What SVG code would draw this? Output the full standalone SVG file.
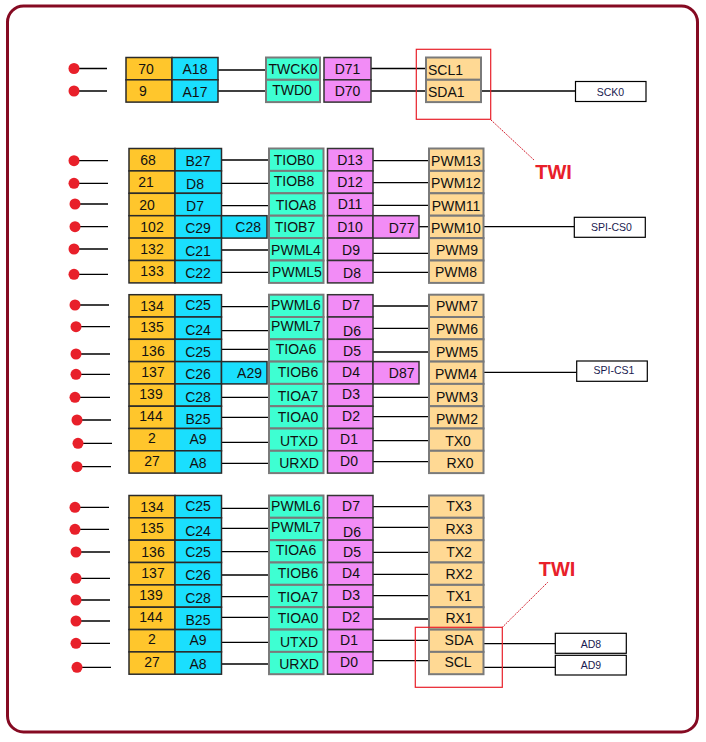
<svg xmlns="http://www.w3.org/2000/svg" width="706" height="742" viewBox="0 0 706 742">
<style>
text{font-family:"Liberation Sans",Arial,sans-serif;font-size:14px;fill:#111;text-anchor:middle}
.o{fill:#FFC62C;stroke:#2a2a2a;stroke-width:1.5}
.c{fill:#1ADFFE;stroke:#2a2a2a;stroke-width:1.5}
.t{fill:#3EFFD2;stroke:#7a7a7a;stroke-width:2}
.p{fill:#F28CF6;stroke:#333;stroke-width:1.5}
.w{fill:#FFD994;stroke:#7a7a7a;stroke-width:2}
.b{fill:#fff;stroke:#000;stroke-width:1.2}
.s{font-size:10.5px;fill:#1a1a50}
.l text{text-anchor:start}
.e{text-anchor:end}
.tw{font-size:20px;font-weight:bold;fill:#E8202A}
#conn line{stroke:#000;stroke-width:1.3}
#conn .dl{stroke:#d01020;stroke-width:1;stroke-dasharray:1.5 1}
.dot{fill:#E8202A}
.rb{fill:none;stroke:#E8202A;stroke-width:1.2}
</style>
<rect x="7.5" y="6" width="690" height="726" rx="16" fill="#fff" stroke="#850A22" stroke-width="3"/>

<g id="conn">
<!-- block 1 -->
<line x1="74" y1="68.5" x2="107" y2="68.5"/><line x1="74" y1="91" x2="107" y2="91"/>
<line x1="218" y1="70" x2="266" y2="70"/><line x1="218" y1="91" x2="266" y2="91"/>
<line x1="371" y1="68.5" x2="426" y2="68.5"/><line x1="371" y1="91" x2="426" y2="91"/>
<line x1="481" y1="91" x2="575.5" y2="91"/>
<line class="dl" x1="491" y1="120" x2="534" y2="160"/>
<!-- block 2 -->
<line x1="74" y1="160.7" x2="108" y2="160.7"/><line x1="74" y1="183.3" x2="108" y2="183.3"/>
<line x1="74" y1="204" x2="108" y2="204"/><line x1="74" y1="226.7" x2="108" y2="226.7"/>
<line x1="74" y1="249" x2="108" y2="249"/><line x1="74" y1="274.3" x2="108" y2="274.3"/>
<line x1="221.5" y1="160" x2="269" y2="160"/><line x1="220" y1="183.3" x2="269" y2="183.3"/>
<line x1="221.5" y1="205.7" x2="269" y2="205.7"/><line x1="221.5" y1="250" x2="269" y2="250"/>
<line x1="221.5" y1="272.3" x2="269" y2="272.3"/>
<line x1="373" y1="160.7" x2="429" y2="160.7"/><line x1="373" y1="182.7" x2="429" y2="182.7"/>
<line x1="373" y1="205.3" x2="429" y2="205.3"/><line x1="419" y1="226.7" x2="429" y2="226.7"/>
<line x1="373" y1="253.3" x2="429" y2="253.3"/><line x1="373" y1="272.3" x2="429" y2="272.3"/>
<line x1="483.5" y1="226.7" x2="574.3" y2="226.7"/>
<!-- block 3 -->
<line x1="75" y1="305" x2="109" y2="305"/><line x1="76" y1="326.7" x2="110" y2="326.7"/>
<line x1="76" y1="354" x2="110" y2="354"/><line x1="76" y1="374.3" x2="110" y2="374.3"/>
<line x1="75" y1="397.3" x2="110" y2="397.3"/><line x1="77" y1="420" x2="111" y2="420"/>
<line x1="78" y1="443.3" x2="112" y2="443.3"/><line x1="77" y1="466.7" x2="111" y2="466.7"/>
<line x1="221.5" y1="306.7" x2="269" y2="306.7"/><line x1="221.5" y1="330.7" x2="269" y2="330.7"/>
<line x1="221.5" y1="349.3" x2="269" y2="349.3"/><line x1="221.5" y1="397.3" x2="269" y2="397.3"/>
<line x1="220" y1="417.3" x2="269" y2="417.3"/><line x1="221.5" y1="442.3" x2="269" y2="442.3"/>
<line x1="221.5" y1="463.3" x2="269" y2="463.3"/>
<line x1="373" y1="306" x2="429" y2="306"/><line x1="372" y1="328.3" x2="429" y2="328.3"/>
<line x1="373" y1="352" x2="429" y2="352"/><line x1="372" y1="397.3" x2="429" y2="397.3"/>
<line x1="373" y1="416.7" x2="429" y2="416.7"/><line x1="373" y1="440.7" x2="429" y2="440.7"/>
<line x1="373" y1="461.7" x2="429" y2="461.7"/>
<line x1="483.5" y1="372.3" x2="576.7" y2="372.3"/>
<!-- block 4 -->
<line x1="75" y1="507.3" x2="109" y2="507.3"/><line x1="75" y1="529.3" x2="109" y2="529.3"/>
<line x1="76" y1="552" x2="110" y2="552"/><line x1="76" y1="578.3" x2="110" y2="578.3"/>
<line x1="76" y1="600" x2="110" y2="600"/><line x1="76" y1="621" x2="110" y2="621"/>
<line x1="76" y1="643.3" x2="110" y2="643.3"/><line x1="77" y1="667.3" x2="111" y2="667.3"/>
<line x1="221.5" y1="508.3" x2="269" y2="508.3"/><line x1="221.5" y1="528.3" x2="269" y2="528.3"/>
<line x1="221.5" y1="551.7" x2="271" y2="551.7"/><line x1="221.5" y1="575" x2="269" y2="575"/>
<line x1="221.5" y1="596.7" x2="269" y2="596.7"/><line x1="221.5" y1="617.3" x2="269" y2="617.3"/>
<line x1="221.5" y1="642.3" x2="269" y2="642.3"/><line x1="221.5" y1="664" x2="269" y2="664"/>
<line x1="373" y1="506.7" x2="429" y2="506.7"/><line x1="372" y1="527.3" x2="429" y2="527.3"/>
<line x1="373" y1="552.3" x2="429" y2="552.3"/><line x1="373" y1="574.3" x2="429" y2="574.3"/>
<line x1="373" y1="595.7" x2="429" y2="595.7"/><line x1="373" y1="619" x2="429" y2="619"/>
<line x1="373" y1="640.3" x2="429" y2="640.3"/><line x1="373" y1="660.7" x2="429" y2="660.7"/>
<line x1="483.5" y1="643.7" x2="555.3" y2="643.7"/><line x1="483.5" y1="667.3" x2="556" y2="667.3"/>
<line class="dl" x1="502.3" y1="627.3" x2="547.7" y2="582.3"/>
</g>

<g id="dots">
<circle class="dot" cx="74" cy="68.5" r="5.5"/><circle class="dot" cx="74" cy="91" r="5.5"/>
<circle class="dot" cx="74" cy="160.7" r="5.5"/><circle class="dot" cx="74" cy="183.3" r="5.5"/>
<circle class="dot" cx="75" cy="204" r="5.5"/><circle class="dot" cx="75" cy="226.7" r="5.5"/>
<circle class="dot" cx="74" cy="249" r="5.5"/><circle class="dot" cx="74" cy="274.3" r="5.5"/>
<circle class="dot" cx="75" cy="305" r="5.5"/><circle class="dot" cx="76" cy="326.7" r="5.5"/>
<circle class="dot" cx="76" cy="354" r="5.5"/><circle class="dot" cx="76" cy="374.3" r="5.5"/>
<circle class="dot" cx="75" cy="397.3" r="5.5"/><circle class="dot" cx="77" cy="420" r="5.5"/>
<circle class="dot" cx="78" cy="443.3" r="5.5"/><circle class="dot" cx="77" cy="466.7" r="5.5"/>
<circle class="dot" cx="75" cy="507.3" r="5.5"/><circle class="dot" cx="75" cy="529.3" r="5.5"/>
<circle class="dot" cx="76" cy="552" r="5.5"/><circle class="dot" cx="76" cy="578.3" r="5.5"/>
<circle class="dot" cx="76" cy="600" r="5.5"/><circle class="dot" cx="76" cy="621" r="5.5"/>
<circle class="dot" cx="76" cy="643.3" r="5.5"/><circle class="dot" cx="77" cy="667.3" r="5.5"/>
</g>

<!-- block 1 -->
<g id="b1">
<g id="b1-o1"><rect class="o" x="126" y="57.5" width="46" height="22.3"/><text x="146" y="74">70</text></g>
<g id="b1-o2"><rect class="o" x="126" y="79.8" width="46" height="22.3"/><text x="143" y="96">9</text></g>
<g id="b1-c1"><rect class="c" x="172" y="57.5" width="46" height="22.3"/><text x="195" y="74">A18</text></g>
<g id="b1-c2"><rect class="c" x="172" y="79.8" width="46" height="22.3"/><text x="195" y="96.5">A17</text></g>
<g id="b1-t1"><rect class="t" x="266" y="57.5" width="54" height="22.3"/><text x="293" y="73.5">TWCK0</text></g>
<g id="b1-t2"><rect class="t" x="266" y="79.8" width="54" height="22.3"/><text x="292" y="95">TWD0</text></g>
<g id="b1-p1"><rect class="p" x="324" y="57.5" width="47" height="22.3"/><text x="347.5" y="73.5">D71</text></g>
<g id="b1-p2"><rect class="p" x="324" y="79.8" width="47" height="22.3"/><text x="347.5" y="96">D70</text></g>
<g id="b1-w1" class="l"><rect class="w" x="426" y="57.5" width="55" height="22.3"/><text x="428" y="74.5">SCL1</text></g>
<g id="b1-w2" class="l"><rect class="w" x="426" y="79.8" width="55" height="22.3"/><text x="428" y="97">SDA1</text></g>
<g id="sck0"><rect class="b" x="575.5" y="81.5" width="70.5" height="20"/><text class="s" x="610.5" y="95.5">SCK0</text></g>
<g id="twi1"><rect class="rb" x="416.3" y="49.3" width="74.4" height="70"/><text class="tw" x="553.5" y="179">TWI</text></g>
</g>

<!-- block 2 -->
<g id="b2">
<g id="b2-r1"><rect class="o" x="129" y="148.5" width="46" height="22.4"/><text x="148" y="165">68</text>
<rect class="c" x="175" y="148.5" width="46.5" height="22.4"/><text x="198" y="166">B27</text>
<rect class="t" x="269" y="148.5" width="54.5" height="22.4"/><text x="294" y="164.5">TIOB0</text>
<rect class="p" x="327.5" y="148.5" width="45.5" height="22.4"/><text x="350" y="164.5">D13</text>
<rect class="w" x="429" y="148.5" width="54.5" height="22.4"/><text x="456" y="166">PWM13</text></g>
<g id="b2-r2"><rect class="o" x="129" y="170.9" width="46" height="22.4"/><text x="146" y="187">21</text>
<rect class="c" x="175" y="170.9" width="46.5" height="22.4"/><text x="195" y="188.5">D8</text>
<rect class="t" x="269" y="170.9" width="54.5" height="22.4"/><text x="294" y="186">TIOB8</text>
<rect class="p" x="327.5" y="170.9" width="45.5" height="22.4"/><text x="350" y="186.5">D12</text>
<rect class="w" x="429" y="170.9" width="54.5" height="22.4"/><text x="456" y="188">PWM12</text></g>
<g id="b2-r3"><rect class="o" x="129" y="193.3" width="46" height="22.4"/><text x="147" y="210">20</text>
<rect class="c" x="175" y="193.3" width="46.5" height="22.4"/><text x="195" y="210.5">D7</text>
<rect class="t" x="269" y="193.3" width="54.5" height="22.4"/><text x="296" y="209.5">TIOA8</text>
<rect class="p" x="327.5" y="193.3" width="45.5" height="22.4"/><text x="350" y="208.5">D11</text>
<rect class="w" x="429" y="193.3" width="54.5" height="22.4"/><text x="456" y="211">PWM11</text></g>
<g id="b2-r4"><rect class="o" x="129" y="215.7" width="46" height="22.4"/><text x="152" y="231.5">102</text>
<rect class="c" x="175" y="215.7" width="46.5" height="22.4"/><text x="198" y="233">C29</text>
<rect class="c" x="221.5" y="215.7" width="45.5" height="22.4"/><text class="e" x="261" y="232">C28</text>
<rect class="t" x="269" y="215.7" width="54.5" height="22.4"/><text x="295" y="231.5">TIOB7</text>
<rect class="p" x="327.5" y="215.7" width="45.5" height="22.4"/><text x="350" y="231.5">D10</text>
<rect class="p" x="373" y="215.7" width="46" height="22.4"/><text class="e" x="414.5" y="232.5">D77</text>
<rect class="w" x="429" y="215.7" width="54.5" height="22.4"/><text x="456" y="232.5">PWM10</text></g>
<g id="b2-r5"><rect class="o" x="129" y="238.1" width="46" height="22.4"/><text x="152" y="254">132</text>
<rect class="c" x="175" y="238.1" width="46.5" height="22.4"/><text x="198" y="255.5">C21</text>
<rect class="t" x="269" y="238.1" width="54.5" height="22.4"/><text x="296" y="254.5">PWML4</text>
<rect class="p" x="327.5" y="238.1" width="45.5" height="22.4"/><text x="351" y="254.5">D9</text>
<rect class="w" x="429" y="238.1" width="54.5" height="22.4"/><text x="457" y="254.5">PWM9</text></g>
<g id="b2-r6"><rect class="o" x="129" y="260.5" width="46" height="22.4"/><text x="152" y="276">133</text>
<rect class="c" x="175" y="260.5" width="46.5" height="22.4"/><text x="198" y="277.5">C22</text>
<rect class="t" x="269" y="260.5" width="54.5" height="22.4"/><text x="297" y="277">PWML5</text>
<rect class="p" x="327.5" y="260.5" width="45.5" height="22.4"/><text x="352" y="277.5">D8</text>
<rect class="w" x="429" y="260.5" width="54.5" height="22.4"/><text x="456" y="277">PWM8</text></g>
<g id="spics0"><rect class="b" x="574.3" y="217.3" width="71" height="20"/><text class="s" x="611.5" y="231">SPI-CS0</text></g>
</g>

<!-- block 3 -->
<g id="b3">
<g id="b3-r1"><rect class="o" x="129" y="294.7" width="46" height="22.3"/><text x="152" y="310.5">134</text>
<rect class="c" x="175" y="294.7" width="46.5" height="22.3"/><text x="198" y="309.5">C25</text>
<rect class="t" x="269" y="294.7" width="54.5" height="22.3"/><text x="296" y="309.5">PWML6</text>
<rect class="p" x="327.5" y="294.7" width="45.5" height="22.3"/><text x="351" y="310">D7</text>
<rect class="w" x="429" y="294.7" width="54.5" height="22.3"/><text x="457" y="310.5">PWM7</text></g>
<g id="b3-r2"><rect class="o" x="129" y="317" width="46" height="22.3"/><text x="152" y="332">135</text>
<rect class="c" x="175" y="317" width="46.5" height="22.3"/><text x="198" y="334.5">C24</text>
<rect class="t" x="269" y="317" width="54.5" height="22.3"/><text x="296" y="331">PWML7</text>
<rect class="p" x="327.5" y="317" width="45.5" height="22.3"/><text x="352" y="336">D6</text>
<rect class="w" x="429" y="317" width="54.5" height="22.3"/><text x="457" y="333.5">PWM6</text></g>
<g id="b3-r3"><rect class="o" x="129" y="339.3" width="46" height="22.3"/><text x="153" y="356">136</text>
<rect class="c" x="175" y="339.3" width="46.5" height="22.3"/><text x="198" y="356.5">C25</text>
<rect class="t" x="269" y="339.3" width="54.5" height="22.3"/><text x="296" y="354">TIOA6</text>
<rect class="p" x="327.5" y="339.3" width="45.5" height="22.3"/><text x="352" y="355.5">D5</text>
<rect class="w" x="429" y="339.3" width="54.5" height="22.3"/><text x="457" y="356.5">PWM5</text></g>
<g id="b3-r4"><rect class="o" x="129" y="361.6" width="46" height="22.3"/><text x="153" y="377">137</text>
<rect class="c" x="175" y="361.6" width="46.5" height="22.3"/><text x="198" y="379">C26</text>
<rect class="c" x="221.5" y="361.6" width="45.5" height="22.3"/><text class="e" x="262" y="377.5">A29</text>
<rect class="t" x="269" y="361.6" width="54.5" height="22.3"/><text x="298" y="377">TIOB6</text>
<rect class="p" x="327.5" y="361.6" width="45.5" height="22.3"/><text x="351" y="377">D4</text>
<rect class="p" x="373" y="361.6" width="46" height="22.3"/><text class="e" x="414.5" y="377.5">D87</text>
<rect class="w" x="429" y="361.6" width="54.5" height="22.3"/><text x="456" y="379">PWM4</text></g>
<g id="b3-r5"><rect class="o" x="129" y="383.9" width="46" height="22.3"/><text x="151" y="399">139</text>
<rect class="c" x="175" y="383.9" width="46.5" height="22.3"/><text x="198" y="401.5">C28</text>
<rect class="t" x="269" y="383.9" width="54.5" height="22.3"/><text x="298" y="400.5">TIOA7</text>
<rect class="p" x="327.5" y="383.9" width="45.5" height="22.3"/><text x="351" y="399">D3</text>
<rect class="w" x="429" y="383.9" width="54.5" height="22.3"/><text x="457" y="402">PWM3</text></g>
<g id="b3-r6"><rect class="o" x="129" y="406.2" width="46" height="22.3"/><text x="151" y="421">144</text>
<rect class="c" x="175" y="406.2" width="46.5" height="22.3"/><text x="198" y="423.5">B25</text>
<rect class="t" x="269" y="406.2" width="54.5" height="22.3"/><text x="298" y="422">TIOA0</text>
<rect class="p" x="327.5" y="406.2" width="45.5" height="22.3"/><text x="351" y="421">D2</text>
<rect class="w" x="429" y="406.2" width="54.5" height="22.3"/><text x="457" y="424">PWM2</text></g>
<g id="b3-r7"><rect class="o" x="129" y="428.5" width="46" height="22.3"/><text x="152" y="443">2</text>
<rect class="c" x="175" y="428.5" width="46.5" height="22.3"/><text x="198" y="443.5">A9</text>
<rect class="t" x="269" y="428.5" width="54.5" height="22.3"/><text x="299" y="446">UTXD</text>
<rect class="p" x="327.5" y="428.5" width="45.5" height="22.3"/><text x="349" y="443.5">D1</text>
<rect class="w" x="429" y="428.5" width="54.5" height="22.3"/><text x="458" y="446">TX0</text></g>
<g id="b3-r8"><rect class="o" x="129" y="450.8" width="46" height="22.3"/><text x="152" y="466">27</text>
<rect class="c" x="175" y="450.8" width="46.5" height="22.3"/><text x="198" y="468">A8</text>
<rect class="t" x="269" y="450.8" width="54.5" height="22.3"/><text x="299" y="468">URXD</text>
<rect class="p" x="327.5" y="450.8" width="45.5" height="22.3"/><text x="349" y="466">D0</text>
<rect class="w" x="429" y="450.8" width="54.5" height="22.3"/><text x="460" y="468">RX0</text></g>
<g id="spics1"><rect class="b" x="576.7" y="361" width="70.6" height="20.3"/><text class="s" x="614" y="374">SPI-CS1</text></g>
</g>

<!-- block 4 -->
<g id="b4">
<g id="b4-r1"><rect class="o" x="129" y="495.5" width="46" height="22.3"/><text x="152" y="511.5">134</text>
<rect class="c" x="175" y="495.5" width="46.5" height="22.3"/><text x="198" y="510.5">C25</text>
<rect class="t" x="269" y="495.5" width="54.5" height="22.3"/><text x="296" y="510.5">PWML6</text>
<rect class="p" x="327.5" y="495.5" width="45.5" height="22.3"/><text x="351" y="511">D7</text>
<rect class="w" x="429" y="495.5" width="54.5" height="22.3"/><text x="459" y="511">TX3</text></g>
<g id="b4-r2"><rect class="o" x="129" y="517.8" width="46" height="22.3"/><text x="152" y="533">135</text>
<rect class="c" x="175" y="517.8" width="46.5" height="22.3"/><text x="198" y="535.5">C24</text>
<rect class="t" x="269" y="517.8" width="54.5" height="22.3"/><text x="296" y="532">PWML7</text>
<rect class="p" x="327.5" y="517.8" width="45.5" height="22.3"/><text x="352" y="537">D6</text>
<rect class="w" x="429" y="517.8" width="54.5" height="22.3"/><text x="459" y="534">RX3</text></g>
<g id="b4-r3"><rect class="o" x="129" y="540.2" width="46" height="22.3"/><text x="153" y="557">136</text>
<rect class="c" x="175" y="540.2" width="46.5" height="22.3"/><text x="198" y="557">C25</text>
<rect class="t" x="269" y="540.2" width="54.5" height="22.3"/><text x="296" y="555">TIOA6</text>
<rect class="p" x="327.5" y="540.2" width="45.5" height="22.3"/><text x="352" y="556.5">D5</text>
<rect class="w" x="429" y="540.2" width="54.5" height="22.3"/><text x="459" y="556.5">TX2</text></g>
<g id="b4-r4"><rect class="o" x="129" y="562.5" width="46" height="22.3"/><text x="153" y="578">137</text>
<rect class="c" x="175" y="562.5" width="46.5" height="22.3"/><text x="198" y="580">C26</text>
<rect class="t" x="269" y="562.5" width="54.5" height="22.3"/><text x="298" y="578">TIOB6</text>
<rect class="p" x="327.5" y="562.5" width="45.5" height="22.3"/><text x="351" y="578">D4</text>
<rect class="w" x="429" y="562.5" width="54.5" height="22.3"/><text x="459" y="579">RX2</text></g>
<g id="b4-r5"><rect class="o" x="129" y="584.9" width="46" height="22.3"/><text x="151" y="600">139</text>
<rect class="c" x="175" y="584.9" width="46.5" height="22.3"/><text x="198" y="602.5">C28</text>
<rect class="t" x="269" y="584.9" width="54.5" height="22.3"/><text x="298" y="601.5">TIOA7</text>
<rect class="p" x="327.5" y="584.9" width="45.5" height="22.3"/><text x="351" y="600">D3</text>
<rect class="w" x="429" y="584.9" width="54.5" height="22.3"/><text x="459" y="601">TX1</text></g>
<g id="b4-r6"><rect class="o" x="129" y="607.2" width="46" height="22.3"/><text x="151" y="622">144</text>
<rect class="c" x="175" y="607.2" width="46.5" height="22.3"/><text x="198" y="624.5">B25</text>
<rect class="t" x="269" y="607.2" width="54.5" height="22.3"/><text x="298" y="623">TIOA0</text>
<rect class="p" x="327.5" y="607.2" width="45.5" height="22.3"/><text x="351" y="622">D2</text>
<rect class="w" x="429" y="607.2" width="54.5" height="22.3"/><text x="459" y="623">RX1</text></g>
<g id="b4-r7"><rect class="o" x="129" y="629.6" width="46" height="22.3"/><text x="152" y="644">2</text>
<rect class="c" x="175" y="629.6" width="46.5" height="22.3"/><text x="198" y="644.5">A9</text>
<rect class="t" x="269" y="629.6" width="54.5" height="22.3"/><text x="299" y="647">UTXD</text>
<rect class="p" x="327.5" y="629.6" width="45.5" height="22.3"/><text x="349" y="644.5">D1</text>
<rect class="w" x="429" y="629.6" width="54.5" height="22.3"/><text x="459" y="645">SDA</text></g>
<g id="b4-r8"><rect class="o" x="129" y="651.9" width="46" height="22.3"/><text x="152" y="667">27</text>
<rect class="c" x="175" y="651.9" width="46.5" height="22.3"/><text x="198" y="669">A8</text>
<rect class="t" x="269" y="651.9" width="54.5" height="22.3"/><text x="299" y="669">URXD</text>
<rect class="p" x="327.5" y="651.9" width="45.5" height="22.3"/><text x="349" y="667">D0</text>
<rect class="w" x="429" y="651.9" width="54.5" height="22.3"/><text x="458" y="667">SCL</text></g>
<g id="ad8"><rect class="b" x="555.3" y="633.3" width="71" height="20"/><text class="s" x="591" y="648">AD8</text></g>
<g id="ad9"><rect class="b" x="555.3" y="655.3" width="71" height="19.7"/><text class="s" x="591" y="669">AD9</text></g>
<g id="twi2"><rect class="rb" x="415.3" y="627.3" width="87" height="60"/><text class="tw" x="557" y="576">TWI</text></g>
</g>
</svg>
